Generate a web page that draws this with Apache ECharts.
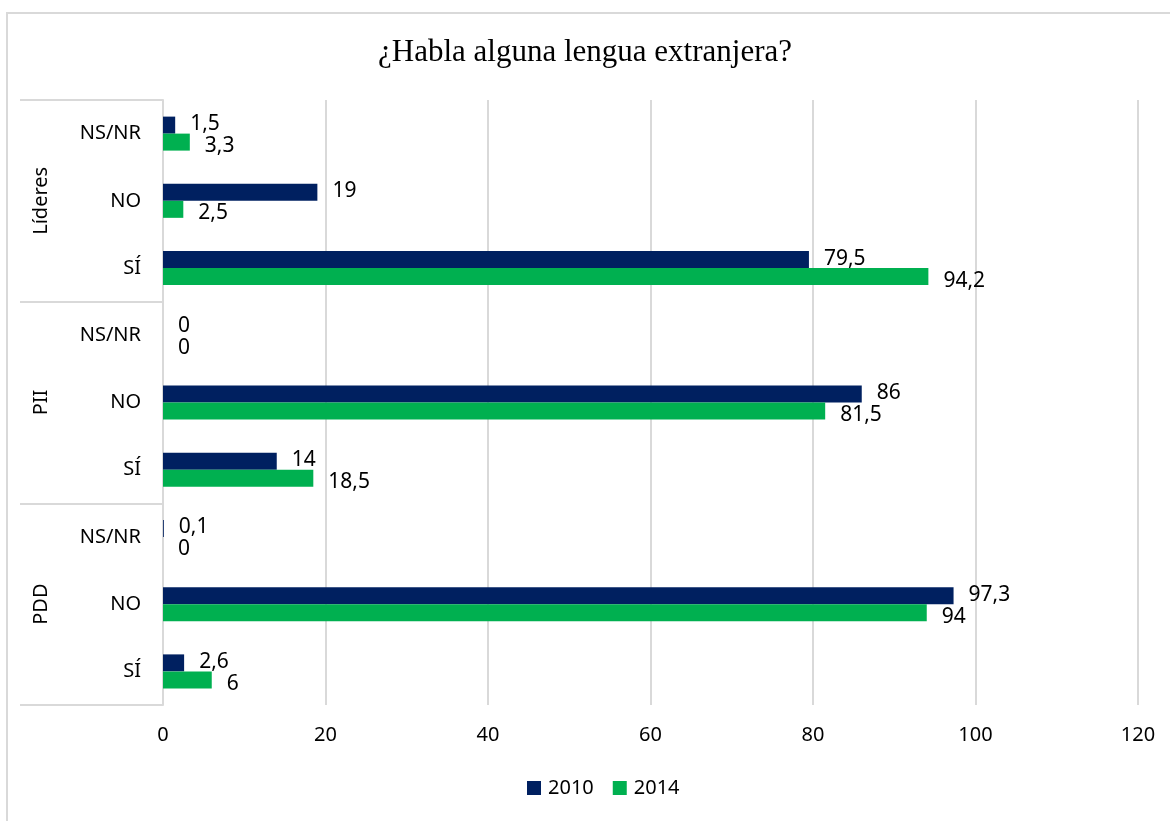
<!DOCTYPE html>
<html>
<head>
<meta charset="utf-8">
<script src="https://cdn.jsdelivr.net/npm/echarts@6/dist/echarts.min.js"></script>
<style>
  html, body { margin: 0; padding: 0; background: #fff; }
  #chart { width: 1170px; height: 821px; }
</style>
</head>
<body>
<div id="chart"></div>
<script>
// rows top to bottom
const subCategories = ['NS/NR', 'NO', 'SÍ', 'NS/NR', 'NO', 'SÍ', 'NS/NR', 'NO', 'SÍ'];
const groups = ['Líderes', 'PII', 'PDD'];
const values2010 = [1.5, 19, 79.5, 0, 86, 14, 0.1, 97.3, 2.6];
const values2014 = [3.3, 2.5, 94.2, 0, 81.5, 18.5, 0, 94, 6];
const xTicks = [0, 20, 40, 60, 80, 100, 120];

const font = '"Noto Sans", sans-serif';
const lineGray = '#d9d9d9';

function fmt(p) {
  return String(p.value).replace('.', ',');
}

let chart = echarts.init(document.getElementById('chart'));
chart.setOption({
  animation: false,
  title: {
    text: '¿Habla alguna lengua extranjera?',
    left: 'center',
    top: 32,
    textStyle: {
      fontFamily: '"Liberation Serif", serif',
      fontWeight: 'normal',
      fontSize: 31,
      color: '#000'
    }
  },
  graphic: [{
    type: 'rect',
    shape: { x: 7, y: 13, width: 1200, height: 900 },
    style: { fill: 'none', stroke: lineGray, lineWidth: 2 },
    silent: true
  }],
  legend: {
    bottom: 18,
    left: 522,
    itemWidth: 14,
    itemHeight: 14,
    itemGap: 19,
    icon: 'rect',
    textStyle: { fontFamily: font, fontSize: 20, color: '#000', padding: [0, 0, 0, 2] },
    data: ['2010', '2014']
  },
  grid: {
    left: 163,
    right: 32,
    top: 100,
    bottom: 116
  },
  xAxis: {
    type: 'value',
    min: xTicks[0],
    max: xTicks[xTicks.length - 1],
    interval: 20,
    axisLine: { show: false },
    axisTick: { show: false },
    axisLabel: { fontFamily: font, fontSize: 20, color: '#000', margin: 20 },
    splitLine: { lineStyle: { color: lineGray, width: 2 } }
  },
  yAxis: [{
    type: 'category',
    data: subCategories,
    inverse: true,
    position: 'left',
    axisLine: { show: true, lineStyle: { color: lineGray, width: 2 } },
    axisTick: { show: false },
    axisLabel: { fontFamily: font, fontSize: 20, color: '#000', margin: 22 }
  }, {
    type: 'category',
    data: groups,
    inverse: true,
    position: 'left',
    axisLine: { show: false },
    axisTick: { show: true, length: 143, lineStyle: { color: lineGray, width: 2 } },
    axisLabel: {
      fontFamily: font, fontSize: 20, color: '#000',
      rotate: 90, margin: 112
    }
  }],
  series: [{
    name: '2010',
    type: 'bar',
    yAxisIndex: 0,
    data: values2010,
    barWidth: 17,
    barGap: '0%',
    itemStyle: { color: '#002060' },
    label: {
      show: true, position: 'right', distance: 15, offset: [0, -1],
      formatter: fmt, fontFamily: font, fontSize: 21, color: '#000'
    }
  }, {
    name: '2014',
    type: 'bar',
    yAxisIndex: 0,
    data: values2014,
    barWidth: 17,
    barGap: '0%',
    itemStyle: { color: '#00b050' },
    label: {
      show: true, position: 'right', distance: 15, offset: [0, 4],
      formatter: fmt, fontFamily: font, fontSize: 21, color: '#000'
    }
  }]
});
</script>
</body>
</html>
